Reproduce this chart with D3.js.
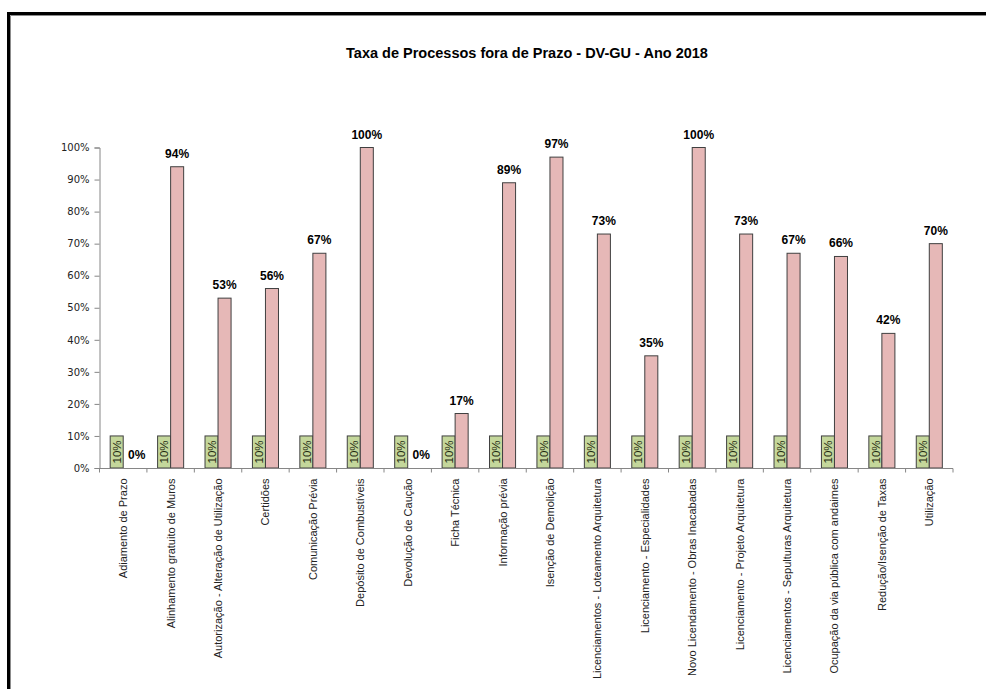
<!DOCTYPE html>
<html>
<head>
<meta charset="utf-8">
<script src="https://cdnjs.cloudflare.com/ajax/libs/d3/7.8.5/d3.min.js"></script>
<style>
  body { margin: 0; background: #fff; }
</style>
</head>
<body>
<div id="chart"></div>
<script>
var categories = [
  "Adiamento de Prazo",
  "Alinhamento gratuito de Muros",
  "Autorização - Alteração de Utilização",
  "Certidões",
  "Comunicação Prévia",
  "Depósito de Combustíveis",
  "Devolução de Caução",
  "Ficha Técnica",
  "Informação prévia",
  "Isenção de Demolição",
  "Licenciamentos - Loteamento Arquitetura",
  "Licenciamento - Especialidades",
  "Novo Licendamento - Obras Inacabadas",
  "Licenciamento - Projeto Arquitetura",
  "Licenciamentos - Sepulturas Arquitetura",
  "Ocupação da via pública com andaimes",
  "Redução/Isenção de Taxas",
  "Utilização"
];
var metaValues = [0.10, 0.10, 0.10, 0.10, 0.10, 0.10, 0.10, 0.10, 0.10, 0.10, 0.10, 0.10, 0.10, 0.10, 0.10, 0.10, 0.10, 0.10];
var foraPrazo = [0.00, 0.94, 0.53, 0.56, 0.67, 1.00, 0.00, 0.17, 0.89, 0.97, 0.73, 0.35, 1.00, 0.73, 0.67, 0.66, 0.42, 0.70];
var yTicks = [0, 0.1, 0.2, 0.3, 0.4, 0.5, 0.6, 0.7, 0.8, 0.9, 1.0];

var width = 986;
var height = 689;

var svg = d3.select("#chart").append("svg")
    .attr("width", width)
    .attr("height", height);

// frame round the chart (runs off the right and bottom edge)
svg.append("path")
    .attr("d", "M8.5," + (height + 5) + " L8.5,13.5 L" + (width + 5) + ",13.5")
    .attr("fill", "none")
    .attr("stroke", "#000")
    .attr("stroke-width", 3);
svg.append("path")
    .attr("d", "M10.5," + (height + 5) + " L10.5,15.5 L" + (width + 5) + ",15.5")
    .attr("fill", "none")
    .attr("stroke", "#8c8c8c")
    .attr("stroke-width", 1);

svg.append("text")
    .attr("x", 527)
    .attr("y", 58)
    .attr("text-anchor", "middle")
    .style("font-family", "'Liberation Sans', Arial, sans-serif")
    .style("font-weight", "bold")
    .style("font-size", "14.5px")
    .text("Taxa de Processos fora de Prazo - DV-GU - Ano 2018");

var x = d3.scaleBand()
    .domain(categories)
    .range([99.5, 953])
    .paddingInner(0)
    .paddingOuter(0);

var xSub = d3.scaleBand()
    .domain(["meta", "fora"])
    .range([0, x.bandwidth()])
    .paddingInner(0)
    .paddingOuter(0.82);

var y = d3.scaleLinear()
    .domain([0, 1])
    .range([468, 147.5]);

// y axis
var yAxis = svg.append("g")
    .attr("transform", "translate(99.5,0)")
    .call(d3.axisLeft(y).tickValues(yTicks).tickSize(5).tickFormat(d3.format(".0%")));
yAxis.select(".domain").attr("stroke", "#868686");
yAxis.selectAll(".tick line").attr("stroke", "#868686");
yAxis.selectAll(".tick text")
    .attr("x", -10)
    .attr("fill", "#222")
    .style("font-family", "'DejaVu Sans', Tahoma, sans-serif")
    .style("font-size", "10px");

var groups = svg.append("g")
    .selectAll("g")
    .data(categories)
    .enter().append("g")
    .attr("transform", function(d) { return "translate(" + x(d) + ",0)"; });

// green bars (10%)
groups.append("rect")
    .attr("x", xSub("meta"))
    .attr("width", xSub.bandwidth())
    .attr("y", function(d, i) { return y(metaValues[i]); })
    .attr("height", function(d, i) { return y(0) - y(metaValues[i]); })
    .attr("fill", "#c4d79b")
    .attr("stroke", "#404040")
    .attr("stroke-width", 1);

groups.append("text")
    .attr("transform", function(d, i) {
      var cx = xSub("meta") + xSub.bandwidth() / 2;
      var cy = (y(metaValues[i]) + y(0)) / 2;
      return "translate(" + cx + "," + cy + ") rotate(-90)";
    })
    .attr("text-anchor", "middle")
    .attr("dy", "0.36em")
    .attr("fill", "#1e2a10")
    .style("font-family", "'Liberation Sans', Arial, sans-serif")
    .style("font-size", "11.5px")
    .text(function(d, i) { return d3.format(".0%")(metaValues[i]); });

// pink bars (fora de prazo)
groups.append("rect")
    .attr("x", xSub("fora"))
    .attr("width", xSub.bandwidth())
    .attr("y", function(d, i) { return y(foraPrazo[i]); })
    .attr("height", function(d, i) { return y(0) - y(foraPrazo[i]); })
    .attr("fill", "#e6b8b7")
    .attr("stroke", "#404040")
    .attr("stroke-width", 1)
    .style("display", function(d, i) { return foraPrazo[i] > 0 ? null : "none"; });

groups.append("text")
    .attr("x", function(d, i) {
      return xSub("fora") + xSub.bandwidth() / 2 + (foraPrazo[i] > 0 ? 0 : 7);
    })
    .attr("y", function(d, i) { return y(foraPrazo[i]) - 9; })
    .attr("text-anchor", "middle")
    .attr("fill", "#000")
    .style("font-family", "'Liberation Sans', Arial, sans-serif")
    .style("font-weight", "bold")
    .style("font-size", "12px")
    .text(function(d, i) { return d3.format(".0%")(foraPrazo[i]); });

// x axis
var xAxis = svg.append("g")
    .attr("transform", "translate(0,468.5)");
xAxis.append("line")
    .attr("x1", x.range()[0])
    .attr("x2", x.range()[1])
    .attr("stroke", "#868686");
xAxis.selectAll(".tk")
    .data(categories.concat(["_end"]))
    .enter().append("line")
    .attr("class", "tk")
    .attr("x1", function(d) { return d === "_end" ? x.range()[1] : x(d); })
    .attr("x2", function(d) { return d === "_end" ? x.range()[1] : x(d); })
    .attr("y1", 0)
    .attr("y2", 4)
    .attr("stroke", "#868686");
xAxis.selectAll(".lbl")
    .data(categories)
    .enter().append("text")
    .attr("class", "lbl")
    .attr("transform", function(d) {
      return "translate(" + (x(d) + x.bandwidth() / 2) + ",10) rotate(-90)";
    })
    .attr("text-anchor", "end")
    .attr("dy", "0.36em")
    .attr("fill", "#222")
    .style("font-family", "'Liberation Sans', Arial, sans-serif")
    .style("font-size", "11px")
    .text(function(d) { return d; });
</script>
</body>
</html>
